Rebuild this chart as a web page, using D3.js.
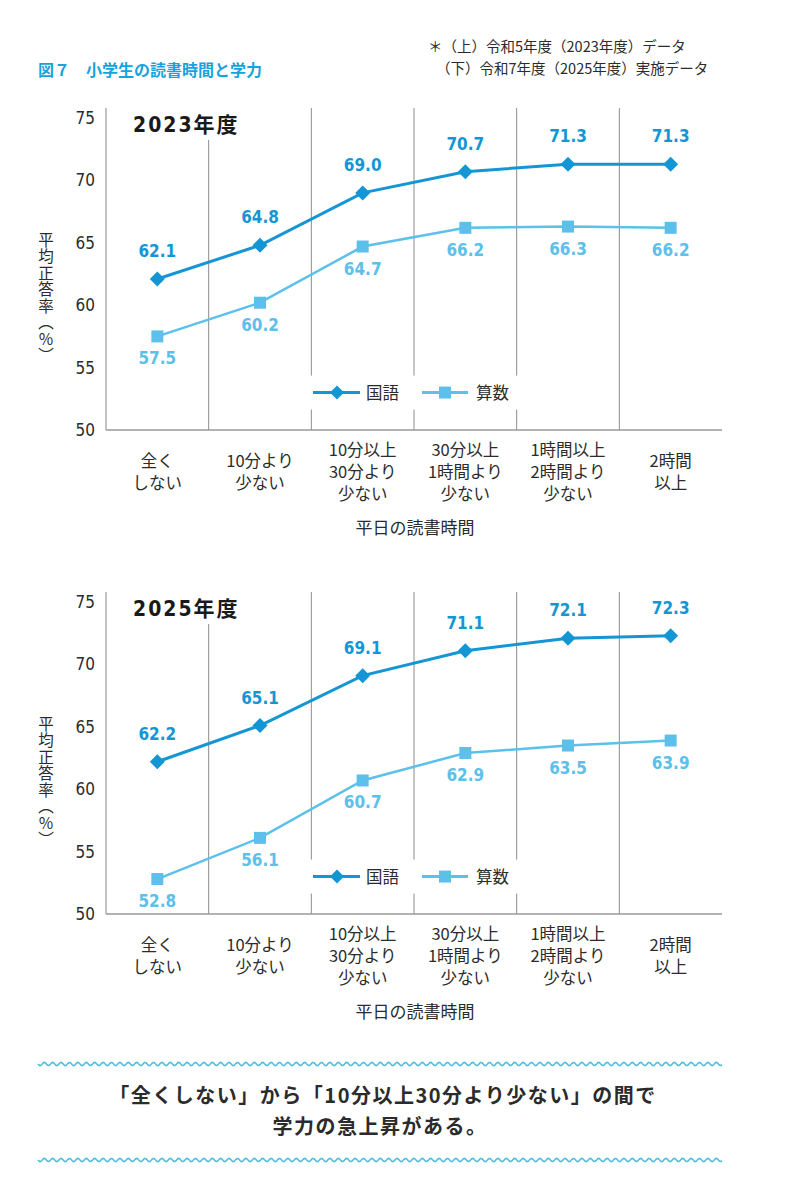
<!DOCTYPE html>
<html>

<head>
    <meta charset="utf-8">
    <title>図7 小学生の読書時間と学力</title>
    <script type="text/javascript" src="https://d3js.org/d3.v7.min.js"></script>

    <style>
        body {
            margin: 0;
            background: #fff;
        }

        svg {
            display: block;
        }

        text {
            font-family: "Liberation Sans Narrow", "DejaVu Sans Condensed", "Noto Sans CJK JP", sans-serif;
        }

        .jp {
            font-family: "Noto Sans CJK JP", sans-serif;
        }
    </style>

</head>

<body>
</body>

<script type="text/javascript">
    var w = 800;
    var h = 1195;

    // categories (weekday reading time), each label split in lines
    var categories = ["全くしない", "10分より少ない", "10分以上30分より少ない",
        "30分以上1時間より少ない", "1時間以上2時間より少ない", "2時間以上"];
    var categoryLines = [
        ["全く", "しない"],
        ["10分より", "少ない"],
        ["10分以上", "30分より", "少ない"],
        ["30分以上", "1時間より", "少ない"],
        ["1時間以上", "2時間より", "少ない"],
        ["2時間", "以上"]
    ];
    var yTicks = [50, 55, 60, 65, 70, 75];

    var kokugo2023 = [62.1, 64.8, 69.0, 70.7, 71.3, 71.3];
    var sansu2023 = [57.5, 60.2, 64.7, 66.2, 66.3, 66.2];
    var kokugo2025 = [62.2, 65.1, 69.1, 71.1, 72.1, 72.3];
    var sansu2025 = [52.8, 56.1, 60.7, 62.9, 63.5, 63.9];

    var colorKokugo = "#1496d4";
    var colorSansu = "#5cc0ea";
    var textColor = "#2b2b2b";
    var gridColor = "#8c8c8c";
    var narrow = "'Liberation Sans Narrow', 'DejaVu Sans Condensed', 'Noto Sans CJK JP', sans-serif";

    var svg = d3.select("body")
        .append("svg")
        .attr("width", w)
        .attr("height", h);

    // header
    svg.append("text")
        .attr("class", "jp")
        .attr("x", 38)
        .attr("y", 76)
        .attr("fill", "#17a3db")
        .attr("font-size", 16)
        .attr("font-weight", "bold")
        .text("図７　小学生の読書時間と学力");

    svg.append("text")
        .attr("class", "jp")
        .attr("x", 428)
        .attr("y", 52)
        .attr("fill", textColor)
        .attr("font-size", 14.5)
        .text("＊（上）令和5年度（2023年度）データ");

    svg.append("text")
        .attr("class", "jp")
        .attr("x", 436)
        .attr("y", 74)
        .attr("fill", textColor)
        .attr("font-size", 14.5)
        .text("（下）令和7年度（2025年度）実施データ");

    var x = d3.scaleBand()
        .domain(categories)
        .range([106, 722])
        .padding(0);

    function diamondPath(cx, cy, r) {
        return "M" + cx + "," + (cy - r) + "L" + (cx + r) + "," + cy +
            "L" + cx + "," + (cy + r) + "L" + (cx - r) + "," + cy + "Z";
    }

    function drawPanel(top, yearLabel, kokugo, sansu) {
        var g = svg.append("g").attr("transform", "translate(0," + top + ")");

        var y = d3.scaleLinear()
            .domain([50, 75])
            .range([312, 0]);

        // category separators
        for (var i = 1; i < categories.length; i++) {
            var gx = x.range()[0] + x.step() * i;
            g.append("line")
                .attr("x1", gx).attr("x2", gx)
                .attr("y1", i === 1 ? 22 : -10)
                .attr("y2", y(50))
                .attr("stroke", gridColor)
                .attr("stroke-width", 1);
        }

        // left axis line & baseline
        g.append("line")
            .attr("x1", 106).attr("x2", 106)
            .attr("y1", -10).attr("y2", y(50))
            .attr("stroke", "#9a9a9a").attr("stroke-width", 1.2);
        g.append("line")
            .attr("x1", 106).attr("x2", 722)
            .attr("y1", y(50)).attr("y2", y(50))
            .attr("stroke", "#9a9a9a").attr("stroke-width", 1.5);

        // y axis ticks
        var yAxis = d3.axisLeft(y)
            .tickValues(yTicks)
            .tickSize(0)
            .tickPadding(11);
        var ax = g.append("g")
            .attr("transform", "translate(106,0)")
            .call(yAxis);
        ax.select(".domain").remove();
        ax.selectAll("text")
            .attr("font-family", narrow)
            .attr("font-size", 17)
            .attr("fill", textColor);

        // y axis title (vertical)
        g.append("text")
            .attr("class", "jp")
            .attr("x", 46)
            .attr("y", y(62.5) + 24)
            .attr("text-anchor", "middle")
            .attr("font-size", 15.5)
            .attr("fill", textColor)
            .style("writing-mode", "vertical-rl")
            .style("letter-spacing", "1px")
            .text("平均正答率（％）");

        // panel title
        g.append("text")
            .attr("x", 133)
            .attr("y", 14)
            .attr("font-size", 21)
            .attr("font-weight", "bold")
            .attr("fill", "#1a1a1a")
            .style("letter-spacing", "2px")
            .text(yearLabel);

        // legend with white backing
        var lg = g.append("g").attr("transform", "translate(0," + y(53) + ")");
        lg.append("rect")
            .attr("x", 309).attr("y", -17)
            .attr("width", 212).attr("height", 34)
            .attr("fill", "#fff");
        lg.append("line")
            .attr("x1", 313).attr("x2", 360)
            .attr("stroke", colorKokugo).attr("stroke-width", 3);
        lg.append("path")
            .attr("d", diamondPath(337, 0, 7))
            .attr("fill", colorKokugo);
        lg.append("text")
            .attr("class", "jp")
            .attr("x", 366).attr("y", 6)
            .attr("font-size", 16.5)
            .attr("fill", textColor)
            .text("国語");
        lg.append("line")
            .attr("x1", 422).attr("x2", 468)
            .attr("stroke", colorSansu).attr("stroke-width", 3);
        lg.append("rect")
            .attr("x", 439).attr("y", -6)
            .attr("width", 12).attr("height", 12)
            .attr("fill", colorSansu);
        lg.append("text")
            .attr("class", "jp")
            .attr("x", 476).attr("y", 6)
            .attr("font-size", 16.5)
            .attr("fill", textColor)
            .text("算数");

        var cx = function(d, i) {
            return x(categories[i]) + x.bandwidth() / 2;
        };

        var line = d3.line()
            .x(cx)
            .y(function(d) { return y(d); });

        // 算数 line
        g.append("path")
            .datum(sansu)
            .attr("d", line)
            .attr("fill", "none")
            .attr("stroke", colorSansu)
            .attr("stroke-width", 2.5);
        g.selectAll(".sq")
            .data(sansu)
            .enter()
            .append("rect")
            .attr("x", function(d, i) { return cx(d, i) - 6; })
            .attr("y", function(d) { return y(d) - 6; })
            .attr("width", 12).attr("height", 12)
            .attr("fill", colorSansu);
        g.selectAll(".sqlab")
            .data(sansu)
            .enter()
            .append("text")
            .attr("x", cx)
            .attr("y", function(d) { return y(d) + 28; })
            .attr("text-anchor", "middle")
            .attr("font-size", 17)
            .attr("font-weight", "bold")
            .attr("fill", colorSansu)
            .text(function(d) { return d.toFixed(1); });

        // 国語 line
        g.append("path")
            .datum(kokugo)
            .attr("d", line)
            .attr("fill", "none")
            .attr("stroke", colorKokugo)
            .attr("stroke-width", 3);
        g.selectAll(".dm")
            .data(kokugo)
            .enter()
            .append("path")
            .attr("d", function(d, i) { return diamondPath(cx(d, i), y(d), 7.5); })
            .attr("fill", colorKokugo);
        g.selectAll(".dmlab")
            .data(kokugo)
            .enter()
            .append("text")
            .attr("x", cx)
            .attr("y", function(d) { return y(d) - 22; })
            .attr("text-anchor", "middle")
            .attr("font-size", 17)
            .attr("font-weight", "bold")
            .attr("fill", colorKokugo)
            .text(function(d) { return d.toFixed(1); });

        // category labels
        var lineH = 22;
        var cat = g.selectAll(".cat")
            .data(categoryLines)
            .enter()
            .append("text")
            .attr("class", "jp")
            .attr("text-anchor", "middle")
            .attr("font-size", 16.5)
            .attr("fill", textColor)
            .attr("transform", function(d, i) {
                var yy = 360 - (d.length - 1) * lineH / 2;
                return "translate(" + cx(d, i) + "," + yy + ")";
            });
        cat.selectAll("tspan")
            .data(function(d) { return d; })
            .enter()
            .append("tspan")
            .attr("x", 0)
            .attr("y", function(d, j) { return j * lineH; })
            .text(function(d) { return d; });

        // x axis title
        g.append("text")
            .attr("class", "jp")
            .attr("x", 415)
            .attr("y", 416)
            .attr("text-anchor", "middle")
            .attr("font-size", 17)
            .attr("fill", textColor)
            .text("平日の読書時間");
    }

    drawPanel(118, "2023年度", kokugo2023, sansu2023);
    drawPanel(602, "2025年度", kokugo2025, sansu2025);

    // wavy separators
    function wave(yy) {
        var pts = d3.range(38, 723, 1).map(function(px) {
            return [px, yy + 1.6 * Math.sin((px - 38) / 8.4 * 2 * Math.PI)];
        });
        svg.append("path")
            .attr("d", d3.line()(pts))
            .attr("fill", "none")
            .attr("stroke", "#4fbfdd")
            .attr("stroke-width", 1.6);
    }
    wave(1064);
    wave(1160);

    svg.append("text")
        .attr("class", "jp")
        .attr("x", 383)
        .attr("y", 1103)
        .attr("text-anchor", "middle")
        .attr("font-size", 20)
        .attr("font-weight", "bold")
        .attr("fill", textColor)
        .style("letter-spacing", "1.5px")
        .text("「全くしない」から「10分以上30分より少ない」の間で");

    svg.append("text")
        .attr("class", "jp")
        .attr("x", 380)
        .attr("y", 1134)
        .attr("text-anchor", "middle")
        .attr("font-size", 20)
        .attr("font-weight", "bold")
        .attr("fill", textColor)
        .style("letter-spacing", "1.5px")
        .text("学力の急上昇がある。");
</script>

</html>
